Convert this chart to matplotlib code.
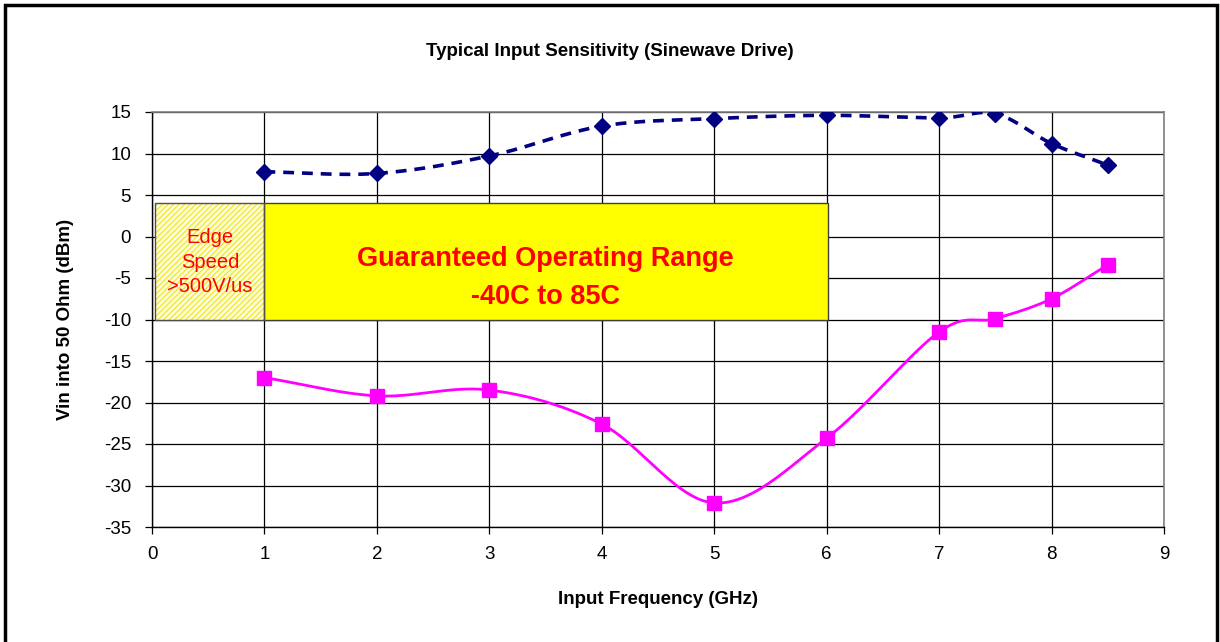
import numpy as np
import matplotlib.pyplot as plt
from matplotlib.patches import Rectangle

plt.rcParams['font.family'] = ['Liberation Sans', 'DejaVu Sans']
plt.rcParams['axes.unicode_minus'] = False

# data
freq = [1, 2, 3, 4, 5, 6, 7, 7.5, 8, 8.5]
upper_dbm = [7.8, 7.6, 9.7, 13.3, 14.2, 14.6, 14.3, 14.8, 11.2, 8.6]
lower_dbm = [-17.0, -19.2, -18.5, -22.6, -32.1, -24.3, -11.5, -9.9, -7.5, -3.4]

x_ticks = list(range(0, 10))
y_ticks = list(range(-35, 20, 5))


def smooth(xs, ys, n=30):
    # catmull-rom curve through the points (like excel "smoothed line")
    xs = np.asarray(xs, float)
    ys = np.asarray(ys, float)
    px = np.concatenate([[2 * xs[0] - xs[1]], xs, [2 * xs[-1] - xs[-2]]])
    py = np.concatenate([[2 * ys[0] - ys[1]], ys, [2 * ys[-1] - ys[-2]]])
    ox, oy = [], []
    t = np.linspace(0, 1, n)
    for i in range(1, len(px) - 2):
        for arr, out in ((px, ox), (py, oy)):
            p0, p1, p2, p3 = arr[i - 1], arr[i], arr[i + 1], arr[i + 2]
            out.extend(0.5 * (2 * p1 + (-p0 + p2) * t
                              + (2 * p0 - 5 * p1 + 4 * p2 - p3) * t ** 2
                              + (-p0 + 3 * p1 - 3 * p2 + p3) * t ** 3))
    return np.array(ox), np.array(oy)


fig = plt.figure(figsize=(12.2, 6.42), dpi=100, facecolor="white")
ax = fig.add_axes([152 / 1220, 1 - 527 / 642, (1164 - 152) / 1220, (527 - 112) / 642])

ax.set_xlim(0, 9)
ax.set_ylim(-35, 15)
ax.set_xticks(x_ticks)
ax.set_yticks(y_ticks)
ax.grid(True, color="black", lw=0.9, zorder=0)
ax.set_axisbelow(True)
ax.tick_params(direction="out", length=5, width=0.9, labelsize=13.5, pad=9)
ax.tick_params(axis="y", pad=10)
for s in ("top", "right"):
    ax.spines[s].set_color("#808080")
    ax.spines[s].set_linewidth(1.2)
for s in ("left", "bottom"):
    ax.spines[s].set_linewidth(1.0)

# boxes
ax.add_patch(Rectangle((0.03, -10), 0.97, 14, facecolor="#FFFFE0", edgecolor="#F2E830",
                       hatch="//////", lw=0, zorder=2))
ax.add_patch(Rectangle((0.03, -10), 0.97, 14, facecolor="none", edgecolor="#505050",
                       lw=1.0, zorder=2.1))
ax.add_patch(Rectangle((1, -10), 5.01, 14, facecolor="#FFFF00", edgecolor="#404040",
                       lw=1.0, zorder=2))
ax.text(0.515, -3.1, "Edge\nSpeed\n>500V/us", color="red", fontsize=14.5, ha="center",
        va="center", linespacing=1.38, zorder=3)
ax.text(3.5, -5.0, "Guaranteed Operating Range\n-40C to 85C", color="red", fontsize=19.5,
        fontweight="bold", ha="center", va="center", linespacing=1.55, zorder=3)

# series
sx, sy = smooth(freq, upper_dbm)
ax.plot(sx, sy, color="#000080", lw=2.6, dashes=(3, 2.2), zorder=4)
ax.plot(freq, upper_dbm, ls="none", marker="D", ms=8, color="#000080", zorder=5)
sx, sy = smooth(freq, lower_dbm)
ax.plot(sx, sy, color="#FF00FF", lw=2.0, zorder=4)
ax.plot(freq, lower_dbm, ls="none", marker="s", ms=9.5, color="#FF00FF", zorder=5)

fig.text(0.5, 1 - 52 / 642, "Typical Input Sensitivity (Sinewave Drive)", ha="center",
         va="center", fontsize=13.5, fontweight="bold")
fig.text(658 / 1220, 1 - 600 / 642, "Input Frequency (GHz)", ha="center", va="center",
         fontsize=13.5, fontweight="bold")
fig.text(65 / 1220, 1 - 319 / 642, "Vin into 50 Ohm (dBm)", ha="center", va="center",
         rotation=90, fontsize=13.5, fontweight="bold")

# outer frame of the picture
fig.patches.append(Rectangle((5 / 1220, -0.05), 1212 / 1220, 1.05 - 5 / 642,
                             transform=fig.transFigure, fill=False, lw=2.5,
                             edgecolor="black"))

plt.savefig("out.png", dpi=100, facecolor="white")
